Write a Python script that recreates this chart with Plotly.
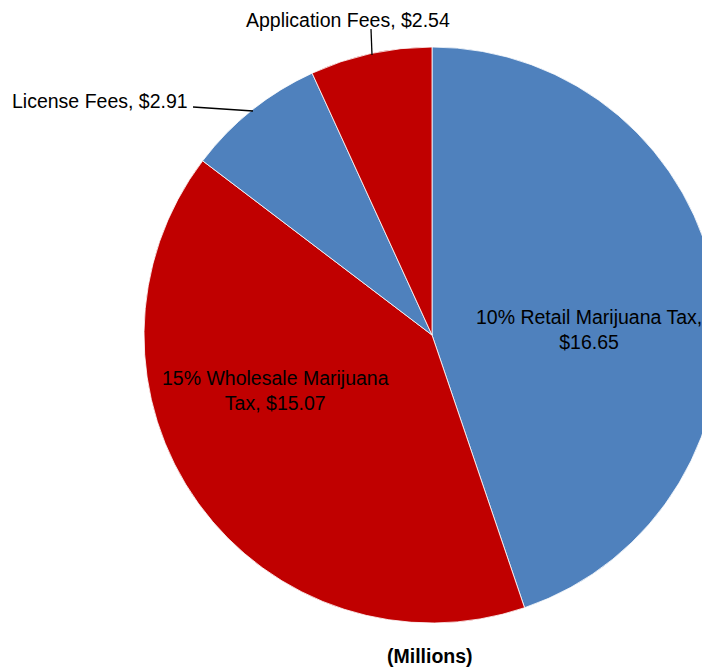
import plotly.graph_objects as go

# The page body has an 8px margin, so the figure is drawn 8px in from the top-left corner.
OFF = 8
W, H = 712, 659

categories = ["10% Retail Marijuana Tax", "15% Wholesale Marijuana Tax", "License Fees", "Application Fees"]
values = [16.65, 15.07, 2.91, 2.54]
display_labels = ["10% Retail Marijuana Tax,<br>$16.65", "15% Wholesale Marijuana<br>Tax, $15.07",
                  "License Fees, $2.91", "Application Fees, $2.54"]
colors = ["#4F81BD", "#C00000", "#4F81BD", "#C00000"]
unit_label = "(Millions)"

FONT = "Liberation Sans, Arial, sans-serif"
FS = 19.5

def px(x):
    return (x - OFF) / W

def py(y):
    return 1 - (y - OFF) / H

cx, cy, r = 432, 335, 288

fig = go.Figure(go.Pie(
    labels=categories,
    values=values,
    sort=False,
    direction="clockwise",
    rotation=0,
    marker=dict(colors=colors, line=dict(color="white", width=0.8)),
    textinfo="none",
    hoverinfo="label+value",
    showlegend=False,
    domain=dict(x=[px(cx - r), px(cx + r)], y=[py(cy + r), py(cy - r)]),
))

label_pos = [(589, 329), (275, 390), (100, 101), (348, 20)]
for txt, (x, y) in zip(display_labels, label_pos):
    fig.add_annotation(x=px(x), y=py(y), xref="paper", yref="paper", text=txt, showarrow=False,
                       xanchor="center", yanchor="middle", font=dict(family=FONT, size=FS, color="#000000"))

leaders = [((193, 107), (253, 111)), ((371, 29), (372, 55))]
for (x0, y0), (x1, y1) in leaders:
    fig.add_shape(type="line", xref="paper", yref="paper", x0=px(x0), y0=py(y0), x1=px(x1), y1=py(y1),
                  line=dict(color="#000000", width=1.3))

fig.add_annotation(x=px(430), y=py(656), xref="paper", yref="paper", text="<b>" + unit_label + "</b>",
                   showarrow=False, xanchor="center", yanchor="middle",
                   font=dict(family=FONT, size=FS, color="#000000"))

fig.update_layout(width=W, height=H, margin=dict(l=0, r=0, t=0, b=0),
                  paper_bgcolor="white", plot_bgcolor="white")

fig.write_html("out.html")
